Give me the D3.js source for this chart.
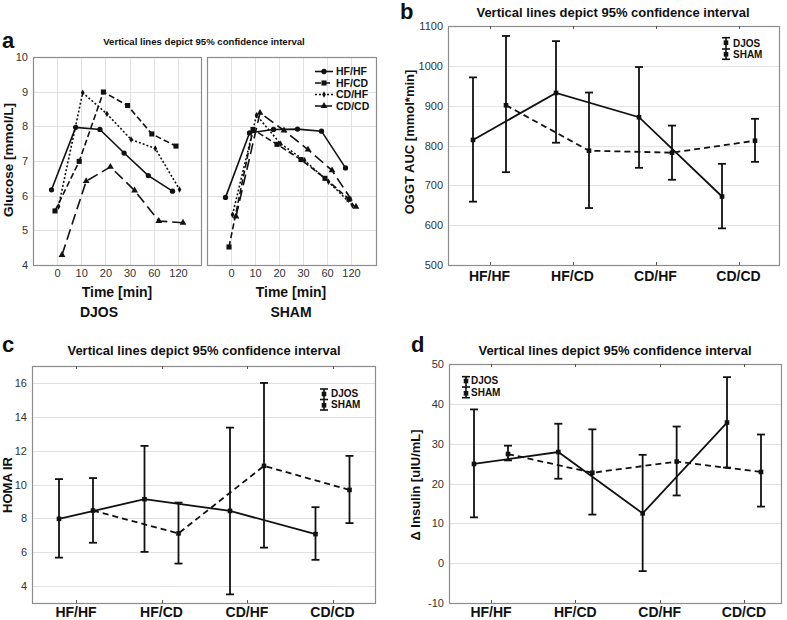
<!DOCTYPE html>
<html><head><meta charset="utf-8">
<script src="https://cdn.jsdelivr.net/npm/d3@7"></script>
<style>body{margin:0;background:#fff}svg{display:block;font-family:"Liberation Sans",Arial,sans-serif}</style>
</head><body><svg id="c" width="787" height="620"></svg>
<script>
// ---------- DATA ----------
const timeLabels = ["0","10","20","30","60","120"];
const glucoseGroups = ["HF/HF","HF/CD","CD/HF","CD/CD"];
const glucoseTicks = [4,5,6,7,8,9,10];
const djosHFHF = [6.17, 7.97, 7.91, 7.23, 6.58, 6.13];
const djosHFCD = [5.56, 6.99, 8.99, 8.60, 7.78, 7.43];
const djosCDHF = [5.69, 8.97, 8.36, 7.62, 7.36, 6.18];
const djosCDCD = [4.29, 6.42, 6.83, 6.15, 5.27, 5.22];
const shamHFHF = [5.95, 7.81, 7.91, 7.92, 7.86, 6.80];
const shamHFCD = [4.52, 7.91, 7.48, 7.04, 6.50, 5.90];
const shamCDHF = [5.45, 8.32, 7.50, 7.02, 6.40, 5.72];
const shamCDCD = [5.40, 8.39, 7.88, 7.33, 6.73, 5.68];

const groups = ["HF/HF","HF/CD","CD/HF","CD/CD"];
const oggtTicks = [500,600,700,800,900,1000,1100];
const oggtDJOS = [814, 932, 871, 672];
const oggtDJOSLow = [659, 807, 744, 592];
const oggtDJOSHigh = [971, 1062, 997, 754];
const oggtSHAM = [901, 787, 782, 812];
const oggtSHAMLow = [733, 643, 714, 759];
const oggtSHAMHigh = [1075, 933, 850, 867];

const homaTicks = [4,6,8,10,12,14,16];
const homaDJOS = [7.97, 9.13, 8.44, 7.07];
const homaDJOSLow = [5.68, 6.02, 3.51, 5.55];
const homaDJOSHigh = [10.32, 12.28, 13.36, 8.66];
const homaSHAM = [8.46, 7.11, 11.10, 9.68];
const homaSHAMLow = [6.56, 5.33, 6.27, 7.72];
const homaSHAMHigh = [10.38, 8.93, 16.0, 11.69];

const insTicks = [-10,0,10,20,30,40,50];
const insDJOS = [24.9, 27.9, 12.5, 35.3];
const insDJOSLow = [11.5, 21.2, -2.0, 24.0];
const insDJOSHigh = [38.6, 35.0, 27.2, 46.7];
const insSHAM = [27.4, 22.7, 25.5, 22.9];
const insSHAMLow = [25.8, 12.2, 17.0, 14.2];
const insSHAMHigh = [29.5, 33.6, 34.3, 32.3];

const titleText = "Vertical lines depict 95% confidence interval";

// ---------- DRAW ----------
const svg = d3.select("#c");
const FRAME = "#8c8c8c", GRID = "#e2e2e2", TICKC = "#333";

function frame(x0,x1,y0,y1){
  svg.append("rect").attr("x",x0+0.5).attr("y",y0+0.5).attr("width",x1-x0).attr("height",y1-y0)
    .attr("fill","none").attr("stroke",FRAME).attr("stroke-width",1.2);
}
function hgrid(y,ticks,x0,x1){
  svg.append("g").selectAll("line").data(ticks).join("line")
    .attr("x1",x0).attr("x2",x1).attr("y1",d=>Math.round(y(d))+0.5).attr("y2",d=>Math.round(y(d))+0.5)
    .attr("stroke",GRID).attr("stroke-width",1);
}
function yAxis(y,ticks,x0,fs){
  const g = svg.append("g").attr("transform",`translate(${x0-4},0)`)
    .call(d3.axisLeft(y).tickValues(ticks).tickFormat(d=>String(d)).tickSize(0).tickPadding(1));
  g.select(".domain").remove();
  g.selectAll("text").attr("font-size",fs).attr("fill",TICKC).attr("font-family","Liberation Sans, Arial, sans-serif");
}
function text(x,y,s,fs,opts={}){
  const t = svg.append("text").attr("x",x).attr("y",y).text(s).attr("font-size",fs)
    .attr("font-weight",opts.bold===false?"normal":"bold").attr("text-anchor",opts.anchor||"middle").attr("fill",opts.fill||"#111");
  if(opts.rot) t.attr("transform",`rotate(-90,${x},${y})`);
  return t;
}

// ----- Panel a -----
const yA = d3.scaleLinear().domain([4,10]).range([265,57]);
const xAL = d3.scalePoint().domain(timeLabels).range([57,178]);
const xAR = d3.scalePoint().domain(timeLabels).range([231,351]);
const aStyles = [
  {dash:null, sym:d3.symbolCircle, size:22, off:-5.5},
  {dash:"6,3", sym:d3.symbolSquare, size:26, off:-2},
  {dash:"2,2", sym:d3.symbolDiamond, size:12, off:1.5},
  {dash:"11,5", sym:d3.symbolTriangle, size:20, off:5}
];
function glucosePlot(x, seriesList, x0, x1){
  hgrid(yA, glucoseTicks, x0, x1);
  svg.append("g").selectAll("line").data(timeLabels).join("line")
    .attr("x1",d=>Math.round(x(d))+0.5).attr("x2",d=>Math.round(x(d))+0.5).attr("y1",57).attr("y2",265)
    .attr("stroke",GRID);
  frame(x0,x1,57,265);
  seriesList.forEach((vals,i)=>{
    const st = aStyles[i];
    const line = d3.line().x((d,j)=>x(timeLabels[j])+st.off).y(d=>yA(d));
    svg.append("path").attr("d",line(vals)).attr("fill","none").attr("stroke","#111")
      .attr("stroke-width",1.6).attr("stroke-dasharray",st.dash);
    svg.append("g").selectAll("path").data(vals).join("path")
      .attr("transform",(d,j)=>`translate(${x(timeLabels[j])+st.off},${yA(d)})`)
      .attr("d",d3.symbol().type(st.sym).size(st.size)).attr("fill","#111");
  });
  const g = svg.append("g").attr("transform","translate(0,269)")
    .call(d3.axisBottom(x).tickSize(0).tickPadding(0));
  g.select(".domain").remove();
  g.selectAll("text").attr("font-size",11).attr("fill",TICKC).attr("dy","0.71em").attr("font-family","Liberation Sans, Arial, sans-serif");
}
glucosePlot(xAL,[djosHFHF,djosHFCD,djosCDHF,djosCDCD],33,201);
glucosePlot(xAR,[shamHFHF,shamHFCD,shamCDHF,shamCDCD],207,376);
yAxis(yA, glucoseTicks, 33, 11);
text(204,45,titleText,9.6);
text(2,48,"a",22,{anchor:"start"});
text(13,160,"Glucose [mmol/L]",13.5,{rot:true});
text(117,297,"Time [min]",14);
text(291,297,"Time [min]",14);
text(99,316.5,"DJOS",14);
text(291,316.5,"SHAM",14);
// legend a
glucoseGroups.forEach((gname,i)=>{
  const st = aStyles[i], yy = 71.5 + i*11.5;
  svg.append("line").attr("x1",315).attr("x2",333).attr("y1",yy).attr("y2",yy)
    .attr("stroke","#111").attr("stroke-width",1.6).attr("stroke-dasharray",st.dash? (i===3?"7,3":st.dash):null);
  svg.append("path").attr("transform",`translate(324,${yy})`).attr("d",d3.symbol().type(st.sym).size(st.size)).attr("fill","#111");
  text(336,yy+3.8,gname,10.5,{anchor:"start"});
});

// ----- Error-bar panels -----
function ciPanel(cfg){
  const y = d3.scaleLinear().domain(cfg.domain).range([cfg.y1,cfg.y0]);
  const x = d3.scalePoint().domain(groups).range(cfg.xr);
  hgrid(y,cfg.ticks,cfg.x0,cfg.x1);
  frame(cfg.x0,cfg.x1,cfg.y0,cfg.y1);
  svg.append("g").selectAll("line").data(groups).join("line")
    .attr("x1",d=>Math.round(x(d))+0.5).attr("x2",d=>Math.round(x(d))+0.5).attr("y1",cfg.y0).attr("y2",cfg.y0+3).attr("stroke","#555");
  svg.append("g").selectAll("line").data(groups).join("line")
    .attr("x1",d=>Math.round(x(d))+0.5).attr("x2",d=>Math.round(x(d))+0.5).attr("y1",cfg.y1-3).attr("y2",cfg.y1).attr("stroke","#555");
  yAxis(y,cfg.ticks,cfg.x0,11);
  const series = [
    {v:cfg.djos, lo:cfg.djosLo, hi:cfg.djosHi, off:-cfg.off, dash:null},
    {v:cfg.sham, lo:cfg.shamLo, hi:cfg.shamHi, off:cfg.off, dash:"6,4"}
  ];
  series.forEach(s=>{
    const line = d3.line().x((d,i)=>x(groups[i])+s.off).y(d=>y(d));
    svg.append("path").attr("d",line(s.v)).attr("fill","none").attr("stroke","#111")
      .attr("stroke-width",1.8).attr("stroke-dasharray",s.dash);
    const g = svg.append("g").attr("stroke","#111").attr("stroke-width",1.8);
    s.v.forEach((d,i)=>{
      const cx = x(groups[i])+s.off;
      g.append("line").attr("x1",cx).attr("x2",cx).attr("y1",y(s.lo[i])).attr("y2",y(s.hi[i]));
      g.append("line").attr("x1",cx-4).attr("x2",cx+4).attr("y1",y(s.lo[i])).attr("y2",y(s.lo[i]));
      g.append("line").attr("x1",cx-4).attr("x2",cx+4).attr("y1",y(s.hi[i])).attr("y2",y(s.hi[i]));
    });
    svg.append("g").selectAll("rect").data(s.v).join("rect")
      .attr("x",(d,i)=>x(groups[i])+s.off-2.3).attr("y",d=>y(d)-2.3).attr("width",4.6).attr("height",4.6).attr("fill","#111");
  });
  groups.forEach(gname=>text(x(gname),cfg.labY,gname,14));
  text(cfg.titleX,cfg.titleY,titleText,13);
  text(cfg.letX,cfg.letY,cfg.letter,22,{anchor:"start"});
  text(cfg.ylabX,cfg.ylabY,cfg.ylab,13,{rot:true});
  const L = cfg.leg;
  const lg = svg.append("g").attr("stroke","#111").attr("stroke-width",1.6);
  lg.append("line").attr("x1",L.x).attr("x2",L.x).attr("y1",L.caps[0]).attr("y2",L.caps[2]);
  L.caps.forEach(cy=>lg.append("line").attr("x1",L.x-4).attr("x2",L.x+4).attr("y1",cy).attr("y2",cy));
  L.marks.forEach(my=>svg.append("rect").attr("x",L.x-2.3).attr("y",my-2.3).attr("width",4.6).attr("height",4.6).attr("fill","#111"));
  text(L.tx,L.b1,"DJOS",10,{anchor:"start"});
  text(L.tx,L.b2,"SHAM",10,{anchor:"start"});
}

ciPanel({x0:448,x1:779,y0:26,y1:265,domain:[500,1100],ticks:oggtTicks,xr:[489.5,738.5],off:16.5,
  djos:oggtDJOS,djosLo:oggtDJOSLow,djosHi:oggtDJOSHigh,sham:oggtSHAM,shamLo:oggtSHAMLow,shamHi:oggtSHAMHigh,
  labY:281,titleX:613,titleY:17,letter:"b",letX:400,letY:19,ylab:"OGGT AUC [mmol*min]",ylabX:414,ylabY:142,
  leg:{x:726,caps:[37.7,49,59.3],marks:[42.7,54.3],tx:733,b1:46.7,b2:58.3}});

ciPanel({x0:32,x1:375,y0:366,y1:603,domain:[3,17],ticks:homaTicks,xr:[76,332.5],off:17,
  djos:homaDJOS,djosLo:homaDJOSLow,djosHi:homaDJOSHigh,sham:homaSHAM,shamLo:homaSHAMLow,shamHi:homaSHAMHigh,
  labY:616.5,titleX:204,titleY:355,letter:"c",letX:2,letY:352,ylab:"HOMA IR",ylabX:12,ylabY:485,
  leg:{x:324,caps:[389,399.5,410],marks:[394,405.3],tx:331,b1:397,b2:408.3}});

ciPanel({x0:449,x1:781,y0:364,y1:603,domain:[-10,50],ticks:insTicks,xr:[491,744],off:17,
  djos:insDJOS,djosLo:insDJOSLow,djosHi:insDJOSHigh,sham:insSHAM,shamLo:insSHAMLow,shamHi:insSHAMHigh,
  labY:616.5,titleX:615,titleY:355,letter:"d",letX:411,letY:352,ylab:"\u0394 Insulin [uIU/mL]",ylabX:420,ylabY:485,
  leg:{x:466,caps:[376.7,387,397.7],marks:[381,393.3],tx:471,b1:384,b2:396}});
</script></body></html>
